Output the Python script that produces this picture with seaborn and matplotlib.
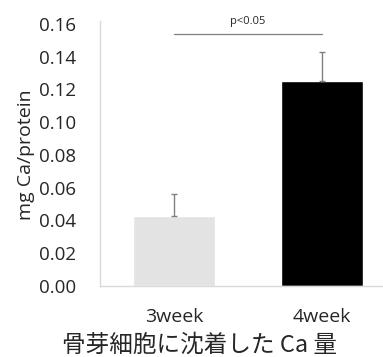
import matplotlib
matplotlib.use("Agg")
import matplotlib.pyplot as plt
import seaborn as sns
import pandas as pd
from matplotlib.ticker import FormatStrFormatter

# data
groups = ["3week", "4week"]
means = [0.0427, 0.125]
errors = [0.0135, 0.018]
bar_colors = ["#e3e3e3", "#000000"]
y_ticks = [0.00, 0.02, 0.04, 0.06, 0.08, 0.10, 0.12, 0.14, 0.16]
sig_label = "p<0.05"
sig_level = 0.154
y_label = "mg Ca/protein"
x_label = "骨芽細胞に沈着した Ca 量"

sns.set_style("white")
plt.rcParams["font.family"] = ["Open Sans", "Noto Sans CJK JP", "DejaVu Sans"]

df = pd.DataFrame({"group": groups, "value": means})

fig = plt.figure(figsize=(3.83, 3.57), dpi=100)
ax = fig.add_axes([0.261, 0.199, 0.739, 0.734])

sns.barplot(data=df, x="group", y="value", hue="group", palette=bar_colors,
            width=0.55, legend=False, ax=ax)

# upward-only error bars
ax.errorbar(range(len(groups)), means, yerr=[[0] * len(errors), errors],
            fmt="none", ecolor="#808080", elinewidth=1.0, capsize=2.5, capthick=1.0)

# significance line
ax.plot([0, 1], [sig_level, sig_level], color="#808080", lw=0.9)
ax.text(0.5, sig_level + 0.004, sig_label, ha="center", va="bottom", fontsize=8)

ax.set_xlim(-0.5, 1.41)
ax.set_ylim(0, 0.16)
ax.set_yticks(y_ticks)
ax.yaxis.set_major_formatter(FormatStrFormatter("%.2f"))

for side in ["top", "right"]:
    ax.spines[side].set_visible(False)
for side in ["left", "bottom"]:
    ax.spines[side].set_color("#d9d9d9")
    ax.spines[side].set_linewidth(1.0)
ax.spines["left"].set_bounds(0, 0.1615)

ax.tick_params(axis="y", length=0, pad=17, labelsize=13.5)
ax.tick_params(axis="x", length=0, pad=16, labelsize=14)

ax.set_ylabel(y_label, fontsize=14, labelpad=3)
ax.set_xlabel(x_label, fontsize=17, va="center",
              family=["Noto Sans CJK JP", "DejaVu Sans"])
ax.xaxis.set_label_coords(0.353, -0.226)

fig.savefig("out.png", dpi=100)
